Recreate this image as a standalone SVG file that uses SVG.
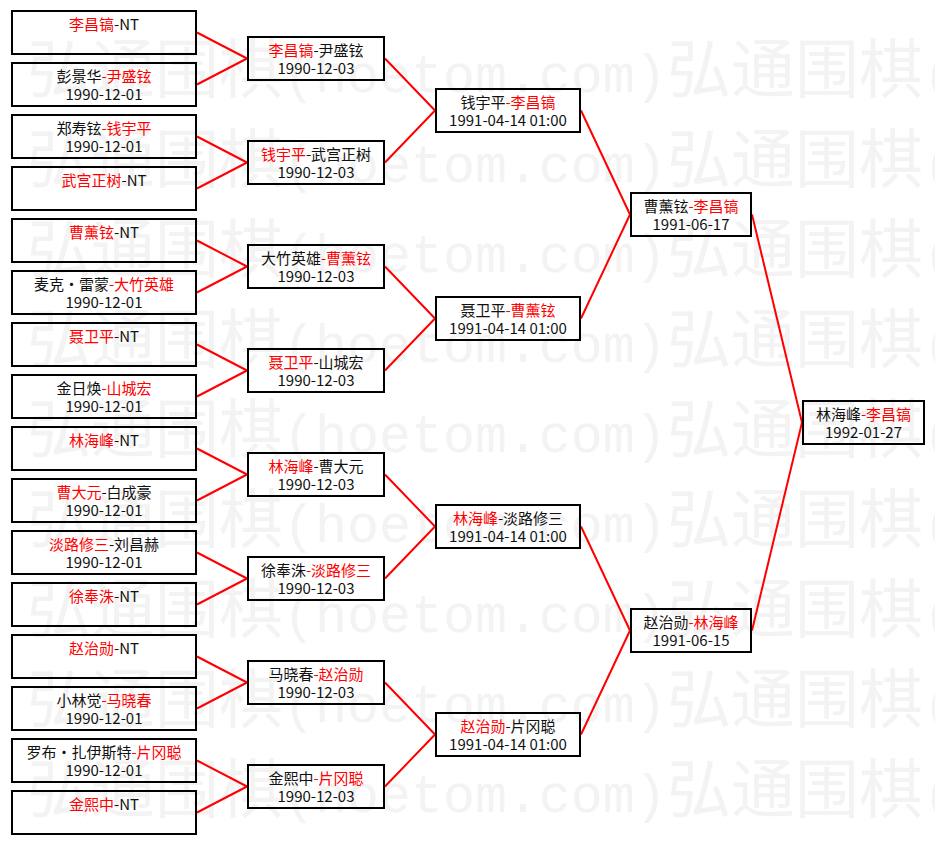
<svg xmlns="http://www.w3.org/2000/svg" width="935" height="845" viewBox="0 0 935 845">
<style>
.bg{fill:#ffffff}
.wm{fill:#f3f3f3;font-family:"Noto Sans CJK SC",sans-serif;font-size:64px}
.wl{font-family:"Liberation Mono",monospace;font-size:53.3px}
.box{fill:none;stroke:#000;stroke-width:2}
.t{font-family:"Noto Sans CJK SC","Noto Sans",sans-serif;font-size:15px;fill:#111;text-anchor:middle}
.r{fill:#f00}
.c{stroke:#f00;stroke-width:2;fill:none}
</style>
<rect class="bg" x="0" y="0" width="935" height="845"/>
<g id="watermark">
<text class="wm" x="27" y="92">弘通围棋<tspan class="wl">(hoetom.com)</tspan></text>
<text class="wm" x="667" y="92">弘通围棋<tspan class="wl">(</tspan></text>
<text class="wm" x="27" y="182">弘通围棋<tspan class="wl">(hoetom.com)</tspan></text>
<text class="wm" x="667" y="182">弘通围棋<tspan class="wl">(</tspan></text>
<text class="wm" x="27" y="272">弘通围棋<tspan class="wl">(hoetom.com)</tspan></text>
<text class="wm" x="667" y="272">弘通围棋<tspan class="wl">(</tspan></text>
<text class="wm" x="27" y="362">弘通围棋<tspan class="wl">(hoetom.com)</tspan></text>
<text class="wm" x="667" y="362">弘通围棋<tspan class="wl">(</tspan></text>
<text class="wm" x="27" y="452">弘通围棋<tspan class="wl">(hoetom.com)</tspan></text>
<text class="wm" x="667" y="452">弘通围棋<tspan class="wl">(</tspan></text>
<text class="wm" x="27" y="542">弘通围棋<tspan class="wl">(hoetom.com)</tspan></text>
<text class="wm" x="667" y="542">弘通围棋<tspan class="wl">(</tspan></text>
<text class="wm" x="27" y="632">弘通围棋<tspan class="wl">(hoetom.com)</tspan></text>
<text class="wm" x="667" y="632">弘通围棋<tspan class="wl">(</tspan></text>
<text class="wm" x="27" y="722">弘通围棋<tspan class="wl">(hoetom.com)</tspan></text>
<text class="wm" x="667" y="722">弘通围棋<tspan class="wl">(</tspan></text>
<text class="wm" x="27" y="812">弘通围棋<tspan class="wl">(hoetom.com)</tspan></text>
<text class="wm" x="667" y="812">弘通围棋<tspan class="wl">(</tspan></text>
</g>
<g id="connectors">
<path class="c" d="M197 32.5L247 58.5M197 84.5L247 58.5M197 136.5L247 162.5M197 188.5L247 162.5M197 240.5L247 266.5M197 292.5L247 266.5M197 344.5L247 370.5M197 396.5L247 370.5M197 448.5L247 474.5M197 500.5L247 474.5M197 552.5L247 578.5M197 604.5L247 578.5M197 656.5L247 682.5M197 708.5L247 682.5M197 760.5L247 786.5M197 812.5L247 786.5"/>
<path class="c" d="M385 58.5L435 110.5M385 162.5L435 110.5M385 266.5L435 318.5M385 370.5L435 318.5M385 474.5L435 526.5M385 578.5L435 526.5M385 682.5L435 734.5M385 786.5L435 734.5"/>
<path class="c" d="M581 110.5L630 214.5M581 318.5L630 214.5M581 526.5L630 630.5M581 734.5L630 630.5"/>
<path class="c" d="M752 214.5L802 422.5M752 630.5L802 422.5"/>
</g>
<g id="r1-1"><rect class="box" x="12" y="11" width="184" height="43"/><text class="t" x="104" y="30"><tspan class="r">李昌镐</tspan>-NT</text></g>
<g id="r1-2"><rect class="box" x="12" y="63" width="184" height="43"/><text class="t" x="104" y="82">彭景华<tspan class="r">-尹盛铉</tspan></text><text class="t" x="104" y="100">1990-12-01</text></g>
<g id="r1-3"><rect class="box" x="12" y="115" width="184" height="43"/><text class="t" x="104" y="134">郑寿铉<tspan class="r">-钱宇平</tspan></text><text class="t" x="104" y="152">1990-12-01</text></g>
<g id="r1-4"><rect class="box" x="12" y="167" width="184" height="43"/><text class="t" x="104" y="186"><tspan class="r">武宫正树</tspan>-NT</text></g>
<g id="r1-5"><rect class="box" x="12" y="219" width="184" height="43"/><text class="t" x="104" y="238"><tspan class="r">曹薰铉</tspan>-NT</text></g>
<g id="r1-6"><rect class="box" x="12" y="271" width="184" height="43"/><text class="t" x="104" y="290">麦克・雷蒙<tspan class="r">-大竹英雄</tspan></text><text class="t" x="104" y="308">1990-12-01</text></g>
<g id="r1-7"><rect class="box" x="12" y="323" width="184" height="43"/><text class="t" x="104" y="342"><tspan class="r">聂卫平</tspan>-NT</text></g>
<g id="r1-8"><rect class="box" x="12" y="375" width="184" height="43"/><text class="t" x="104" y="394">金日焕<tspan class="r">-山城宏</tspan></text><text class="t" x="104" y="412">1990-12-01</text></g>
<g id="r1-9"><rect class="box" x="12" y="427" width="184" height="43"/><text class="t" x="104" y="446"><tspan class="r">林海峰</tspan>-NT</text></g>
<g id="r1-10"><rect class="box" x="12" y="479" width="184" height="43"/><text class="t" x="104" y="498"><tspan class="r">曹大元</tspan>-白成豪</text><text class="t" x="104" y="516">1990-12-01</text></g>
<g id="r1-11"><rect class="box" x="12" y="531" width="184" height="43"/><text class="t" x="104" y="550"><tspan class="r">淡路修三</tspan>-刘昌赫</text><text class="t" x="104" y="568">1990-12-01</text></g>
<g id="r1-12"><rect class="box" x="12" y="583" width="184" height="43"/><text class="t" x="104" y="602"><tspan class="r">徐奉洙</tspan>-NT</text></g>
<g id="r1-13"><rect class="box" x="12" y="635" width="184" height="43"/><text class="t" x="104" y="654"><tspan class="r">赵治勋</tspan>-NT</text></g>
<g id="r1-14"><rect class="box" x="12" y="687" width="184" height="43"/><text class="t" x="104" y="706">小林觉<tspan class="r">-马晓春</tspan></text><text class="t" x="104" y="724">1990-12-01</text></g>
<g id="r1-15"><rect class="box" x="12" y="739" width="184" height="43"/><text class="t" x="104" y="758">罗布・扎伊斯特<tspan class="r">-片冈聪</tspan></text><text class="t" x="104" y="776">1990-12-01</text></g>
<g id="r1-16"><rect class="box" x="12" y="791" width="184" height="43"/><text class="t" x="104" y="810"><tspan class="r">金熙中</tspan>-NT</text></g>
<g id="r2-1"><rect class="box" x="248" y="37" width="136" height="43"/><text class="t" x="316" y="56"><tspan class="r">李昌镐</tspan>-尹盛铉</text><text class="t" x="316" y="74">1990-12-03</text></g>
<g id="r2-2"><rect class="box" x="248" y="141" width="136" height="43"/><text class="t" x="316" y="160"><tspan class="r">钱宇平</tspan>-武宫正树</text><text class="t" x="316" y="178">1990-12-03</text></g>
<g id="r2-3"><rect class="box" x="248" y="245" width="136" height="43"/><text class="t" x="316" y="264">大竹英雄<tspan class="r">-曹薰铉</tspan></text><text class="t" x="316" y="282">1990-12-03</text></g>
<g id="r2-4"><rect class="box" x="248" y="349" width="136" height="43"/><text class="t" x="316" y="368"><tspan class="r">聂卫平</tspan>-山城宏</text><text class="t" x="316" y="386">1990-12-03</text></g>
<g id="r2-5"><rect class="box" x="248" y="453" width="136" height="43"/><text class="t" x="316" y="472"><tspan class="r">林海峰</tspan>-曹大元</text><text class="t" x="316" y="490">1990-12-03</text></g>
<g id="r2-6"><rect class="box" x="248" y="557" width="136" height="43"/><text class="t" x="316" y="576">徐奉洙<tspan class="r">-淡路修三</tspan></text><text class="t" x="316" y="594">1990-12-03</text></g>
<g id="r2-7"><rect class="box" x="248" y="661" width="136" height="43"/><text class="t" x="316" y="680">马晓春<tspan class="r">-赵治勋</tspan></text><text class="t" x="316" y="698">1990-12-03</text></g>
<g id="r2-8"><rect class="box" x="248" y="765" width="136" height="43"/><text class="t" x="316" y="784">金熙中<tspan class="r">-片冈聪</tspan></text><text class="t" x="316" y="802">1990-12-03</text></g>
<g id="r3-1"><rect class="box" x="436" y="89" width="144" height="43"/><text class="t" x="508" y="108">钱宇平<tspan class="r">-李昌镐</tspan></text><text class="t" x="508" y="126">1991-04-14 01:00</text></g>
<g id="r3-2"><rect class="box" x="436" y="297" width="144" height="43"/><text class="t" x="508" y="316">聂卫平<tspan class="r">-曹薰铉</tspan></text><text class="t" x="508" y="334">1991-04-14 01:00</text></g>
<g id="r3-3"><rect class="box" x="436" y="505" width="144" height="43"/><text class="t" x="508" y="524"><tspan class="r">林海峰</tspan>-淡路修三</text><text class="t" x="508" y="542">1991-04-14 01:00</text></g>
<g id="r3-4"><rect class="box" x="436" y="713" width="144" height="43"/><text class="t" x="508" y="732"><tspan class="r">赵治勋</tspan>-片冈聪</text><text class="t" x="508" y="750">1991-04-14 01:00</text></g>
<g id="r4-1"><rect class="box" x="631" y="193" width="120" height="43"/><text class="t" x="691" y="212">曹薰铉<tspan class="r">-李昌镐</tspan></text><text class="t" x="691" y="230">1991-06-17</text></g>
<g id="r4-2"><rect class="box" x="631" y="609" width="120" height="43"/><text class="t" x="691" y="628">赵治勋<tspan class="r">-林海峰</tspan></text><text class="t" x="691" y="646">1991-06-15</text></g>
<g id="r5-1"><rect class="box" x="803" y="401" width="121" height="43"/><text class="t" x="863.5" y="420">林海峰<tspan class="r">-李昌镐</tspan></text><text class="t" x="863.5" y="438">1992-01-27</text></g>
</svg>
